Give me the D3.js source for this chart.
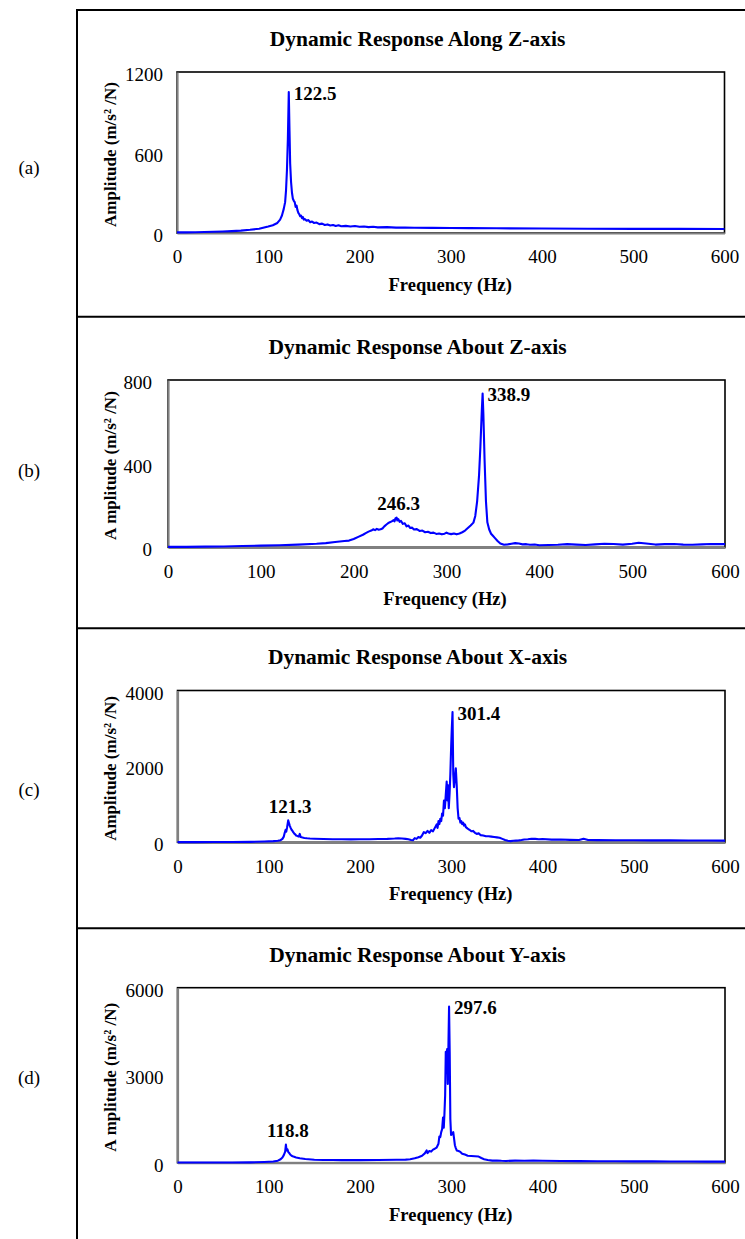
<!DOCTYPE html>
<html>
<head>
<meta charset="utf-8">
<script src="https://cdn.jsdelivr.net/npm/d3@7"></script>
<style>
  html, body { margin: 0; padding: 0; background: #fff; }
  svg { display: block; }
  text { font-family: "Liberation Serif", "Times New Roman", serif; fill: #000; }
</style>
</head>
<body>
<svg id="chart" width="745" height="1239"></svg>
<script>
// ---------------- DATA ----------------
const panelTags = ["(a)", "(b)", "(c)", "(d)"];
const titles = [
  "Dynamic Response Along Z-axis",
  "Dynamic Response About Z-axis",
  "Dynamic Response About X-axis",
  "Dynamic Response About Y-axis"
];
const xTickValues = [0, 100, 200, 300, 400, 500, 600];
const yTicksA = [0, 600, 1200];
const yTicksB = [0, 400, 800];
const yTicksC = [0, 2000, 4000];
const yTicksD = [0, 3000, 6000];
const xTitle = "Frequency (Hz)";
const yTitle = "Amplitude (m/s² /N)";

// (a) Along Z
const freqA = [0,10,20,30,40,50,60,70,80,90,100,105,110,113,115,117,118.5,119.5,120.5,121.5,122.5,123.3,124,125,126,127,128,129,130,131,132,133,134,135,136,137,138,139,140,142,144,146,148,150,153,156,159,162,165,168,171,174,177,180,185,190,195,200,205,210,215,220,230,240,250,260,280,300,320,350,400,450,500,550,600];
const ampA  = [5,5,6,7,9,11,14,18,24,32,48,58,75,100,130,180,230,320,470,700,1050,760,520,380,300,255,240,230,195,205,170,150,140,125,130,110,118,100,104,92,96,80,86,75,78,66,70,60,64,56,60,52,57,50,53,48,52,46,49,44,47,42,44,40,41,39,38,37,36,35,33,32,31,31,30];

// (b) About Z
const freqB = [0,20,40,60,80,100,120,140,160,170,180,190,195,200,205,210,213,216,219,221,223,225,227,229,231,233,235,237,239,241,243,244,245,246.3,247,248,249.5,251,253,255,257,259,261,263,265,268,271,274,277,280,283,286,289,292,295,298,300,302,305,308,311,314,317,320,323,326,329,331,333,335,336.5,338,338.9,339.7,341,342.5,344,346,348,350,352,355,358,362,366,370,374,378,382,386,390,395,400,410,420,430,440,450,460,470,480,490,500,507,515,525,535,545,555,565,575,585,595,600];
const ampB  = [2,2,3,4,6,8,10,13,17,20,25,30,32,40,50,60,68,75,80,86,82,88,84,86,90,100,108,115,120,124,130,124,138,142,128,135,122,126,112,115,100,104,92,94,85,87,78,80,72,74,68,70,64,66,62,65,70,66,63,66,62,66,72,80,92,104,118,150,220,340,480,650,735,640,420,220,120,85,65,55,45,30,18,12,14,17,20,18,14,15,12,13,10,11,12,15,13,11,14,17,16,13,17,22,18,13,15,16,13,12,14,16,15,15];

// (c) About X
const freqC = [0,20,40,60,80,95,105,110,113,115,116.5,117.5,118.5,119.2,120,121.3,122,123,124,125,126,127,128,129,130,131,132,133,134,135,137,139,142,145,150,160,170,180,190,200,210,220,230,238,242,246,250,253,256,258,260,262,264,266,268,270,272,274,276,278,280,282,284,285,286,287,288,289,290,291,292,293,294,295,295.8,296.5,297.3,298.2,299,300,300.6,301.4,302.2,303,304,305,306,307,308,309,310,311,312,313,314,315,316,318,320,322,324,326,328,330,332,335,338,341,344,347,350,353,356,359,362,365,368,371,374,377,380,384,388,392,396,400,410,420,430,440,445,450,460,480,500,520,540,560,580,600];
const ampC  = [5,5,6,8,12,20,30,40,55,90,150,250,330,280,380,580,520,440,380,330,300,260,230,210,180,170,160,150,220,140,125,115,105,100,95,88,82,80,78,80,82,85,90,100,108,100,90,80,60,55,110,90,140,120,180,270,240,300,250,320,290,380,470,380,560,480,620,560,760,700,1100,900,1250,1600,1100,1500,900,1300,1800,2600,3000,3430,1800,1450,1700,1950,1500,900,620,640,520,560,480,520,440,470,400,360,330,290,300,250,220,240,190,180,160,160,150,140,130,120,90,60,40,30,40,45,50,60,75,80,95,90,80,85,70,72,65,60,95,60,58,55,55,52,50,48,47,45];

// (d) About Y
const freqD = [0,20,40,60,80,95,105,110,113,115,116.5,118,118.8,119.5,120.5,121.5,122.5,123.5,125,127,130,134,140,150,160,170,180,200,220,240,250,255,260,264,268,271,273,274,276,278,280,282,284,286,287,288,289,290,291,291.8,292.5,293.3,294,294.8,295.5,296.2,297,297.6,298.3,299,299.8,301,302.2,303.2,304,305,306,308,310,312,315,318,322,326,330,333,336,340,345,350,355,360,370,380,390,400,420,440,460,480,500,520,540,560,580,600];
const ampD  = [5,5,6,8,12,25,40,70,120,180,260,380,620,420,460,360,330,280,240,210,180,150,125,100,95,90,88,90,92,100,105,120,150,190,240,320,420,330,400,380,450,480,520,650,900,880,1050,1150,1550,1200,1650,2300,3800,3400,3900,2700,4200,5350,3800,1500,950,980,1050,800,600,500,420,400,370,310,280,240,230,220,210,160,120,90,70,75,65,60,70,65,72,68,60,55,50,48,46,44,42,40,38,36];

// peak annotations: [text, frequency, amplitude, placement]
const peaksA = [["122.5", 122.5, 1050, "right"]];
const peaksB = [["246.3", 246.3, 142, "top"], ["338.9", 338.9, 735, "right"]];
const peaksC = [["121.3", 121.3, 580, "top"], ["301.4", 301.4, 3430, "right"]];
const peaksD = [["118.8", 118.8, 620, "top"], ["297.6", 297.6, 5350, "right"]];

// ---------------- LAYOUT ----------------
const panels = [
  { tag: panelTags[0], title: titles[0], freq: freqA, amp: ampA, yTicks: yTicksA, peaks: peaksA,
    frameTop: 10, tagY: 167, titleY: 38.5, x0: 177, x1: 724.5, y0: 72, y1: 233, yPad: 14, gapA: false },
  { tag: panelTags[1], title: titles[1], freq: freqB, amp: ampB, yTicks: yTicksB, peaks: peaksB,
    frameTop: 316.7, tagY: 470, titleY: 346.7, x0: 168, x1: 725, y0: 380, y1: 547.3, yPad: 16, gapA: true },
  { tag: panelTags[2], title: titles[2], freq: freqC, amp: ampC, yTicks: yTicksC, peaks: peaksC,
    frameTop: 628.3, tagY: 789, titleY: 656.7, x0: 177.5, x1: 725, y0: 690.5, y1: 842.3, yPad: 14, gapA: false },
  { tag: panelTags[3], title: titles[3], freq: freqD, amp: ampD, yTicks: yTicksD, peaks: peaksD,
    frameTop: 928.3, tagY: 1077, titleY: 954.3, x0: 177.5, x1: 725, y0: 987.7, y1: 1162.7, yPad: 14, gapA: true }
];

const svg = d3.select("#chart");

// outer frame
svg.append("line").attr("x1", 77).attr("x2", 77).attr("y1", 9).attr("y2", 1239)
  .attr("stroke", "#000").attr("stroke-width", 2);
panels.forEach(p => {
  svg.append("line").attr("x1", 76).attr("x2", 745).attr("y1", p.frameTop).attr("y2", p.frameTop)
    .attr("stroke", "#000").attr("stroke-width", 2);
});

panels.forEach(p => {
  const x = d3.scaleLinear().domain([0, 600]).range([p.x0, p.x1]);
  const y = d3.scaleLinear().domain([0, p.yTicks[p.yTicks.length - 1]]).range([p.y1, p.y0]);
  const g = svg.append("g");

  // panel tag
  g.append("text").attr("x", 29).attr("y", p.tagY).attr("dy", "0.35em")
    .attr("text-anchor", "middle").style("font-size", "19px").text(p.tag);

  // title
  g.append("text").attr("x", 417.5).attr("y", p.titleY).attr("dy", "0.35em")
    .attr("text-anchor", "middle").style("font-size", "21.5px").style("font-weight", "bold").text(p.title);

  // plot area border (black)
  g.append("rect").attr("x", p.x0).attr("y", p.y0).attr("width", p.x1 - p.x0).attr("height", p.y1 - p.y0)
    .attr("fill", "none").attr("stroke", "#000").attr("stroke-width", 1.6);

  // axes
  const xAxis = d3.axisBottom(x).tickValues(xTickValues).tickSize(0).tickPadding(17).tickFormat(d3.format("d"));
  const yAxis = d3.axisLeft(y).tickValues(p.yTicks).tickSize(0).tickPadding(p.yPad).tickFormat(d3.format("d"));

  const gx = g.append("g").attr("transform", `translate(0,${p.y1})`).call(xAxis);
  gx.select(".domain").attr("stroke", "#808080").attr("stroke-width", 2.2);
  gx.selectAll("text").style("font-size", "19px").style("font-family", "Liberation Serif");

  const gy = g.append("g").attr("transform", `translate(${p.x0},0)`).call(yAxis);
  gy.select(".domain").attr("stroke", "#808080").attr("stroke-width", 2.2);
  gy.selectAll("text").style("font-size", "19px").style("font-family", "Liberation Serif").attr("dy", "0.45em");

  // axis titles
  g.append("text").attr("x", (p.x0 + p.x1) / 2 - 0.5 + (p.x0 < 170 ? -1 : 0)).attr("y", p.y1 + 51.5).attr("dy", "0.35em")
    .attr("text-anchor", "middle").style("font-size", "18.5px").style("font-weight", "bold").text(xTitle);

  const yt = g.append("text")
    .attr("transform", `translate(110.5,${(p.y0 + p.y1) / 2 + 2}) rotate(-90)`)
    .attr("dy", "0.35em").attr("text-anchor", "middle")
    .style("font-size", "17px").style("font-weight", "bold");
  if (p.gapA) {
    yt.append("tspan").text(yTitle.slice(0, 1));
    yt.append("tspan").attr("dx", 4).text(yTitle.slice(1));
  } else {
    yt.text(yTitle);
  }

  // curve
  const pts = p.freq.map((f, i) => [f, p.amp[i]]);
  const line = d3.line().x(d => x(d[0])).y(d => y(d[1]));
  g.append("path").datum(pts).attr("d", line)
    .attr("fill", "none").attr("stroke", "#0000FF").attr("stroke-width", 2.1)
    .attr("stroke-linejoin", "round");

  // peak labels
  p.peaks.forEach(([txt, f, a, pos]) => {
    const t = g.append("text").style("font-size", "19px").style("font-weight", "bold").text(txt);
    if (pos === "right") {
      t.attr("x", x(f) + 5).attr("y", y(a) + 1).attr("dy", "0.35em").attr("text-anchor", "start");
    } else {
      t.attr("x", x(f) + 2).attr("y", y(a) - 14).attr("dy", "0.35em").attr("text-anchor", "middle");
    }
  });
});
</script>
</body>
</html>
